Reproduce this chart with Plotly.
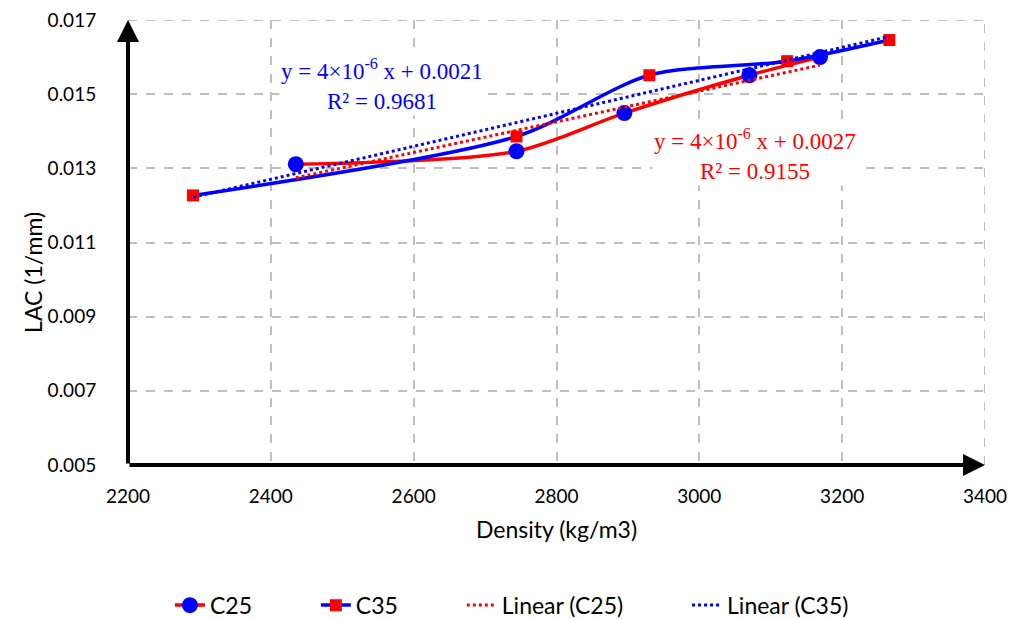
import numpy as np
import plotly.graph_objects as go

# Data
c25_density = [2435, 2744, 2895, 3070, 3169]
c25_lac = [0.01311, 0.01346, 0.01449, 0.01551, 0.01600]
c35_density = [2291, 2744, 2930, 3123, 3266]
c35_lac = [0.01227, 0.01386, 0.01551, 0.01589, 0.01646]

x_ticks = [2200, 2400, 2600, 2800, 3000, 3200, 3400]
y_ticks = [0.005, 0.007, 0.009, 0.011, 0.013, 0.015, 0.017]

RED = "#FF0000"
BLUE = "#0000FF"
GRID = "#BFBFBF"
PAD = "\u00a0" * 10

fig = go.Figure()
fig.add_trace(go.Scatter(
    x=c25_density, y=c25_lac, name="C25" + PAD, mode="lines+markers",
    line=dict(color=RED, width=3.5, shape="spline", smoothing=0.8),
    marker=dict(color=BLUE, size=16, symbol="circle")))
fig.add_trace(go.Scatter(
    x=c35_density, y=c35_lac, name="C35" + PAD, mode="lines+markers",
    line=dict(color=BLUE, width=3.5, shape="spline", smoothing=0.8),
    marker=dict(color=RED, size=12, symbol="square")))

for xs, ys, col, nm in [(c25_density, c25_lac, RED, "Linear (C25)" + PAD),
                        (c35_density, c35_lac, BLUE, "Linear (C35)")]:
    m, b = np.polyfit(xs, ys, 1)
    xe = [min(xs), max(xs)]
    fig.add_trace(go.Scatter(
        x=xe, y=[m * v + b for v in xe], name=nm, mode="lines",
        line=dict(color=col, width=3, dash="dot")))

FAM = "Lato, Open Sans, sans-serif"
tick_font = dict(family=FAM, size=19, color="#000")
title_font = dict(family=FAM, size=23, color="#000")

fig.update_layout(
    width=1024, height=619,
    margin=dict(l=128, r=39, t=20, b=154, autoexpand=False),
    plot_bgcolor="white", paper_bgcolor="white",
    showlegend=True,
    legend=dict(orientation="h", x=0.448, xanchor="center", y=-0.315, yanchor="middle",
                font=title_font, tracegroupgap=0),
    xaxis=dict(range=[2200, 3400], tickvals=x_ticks, ticktext=[str(v) for v in x_ticks],
               showgrid=True, gridcolor=GRID, gridwidth=2, griddash="dash",
               zeroline=False, showline=False, ticks="outside", ticklen=14,
               tickcolor="rgba(0,0,0,0)", tickfont=tick_font, automargin=False,
               title=dict(text="Density (kg/m3)", font=title_font, standoff=16)),
    yaxis=dict(range=[0.005, 0.017], tickvals=y_ticks, ticktext=[f"{v:.3f}" for v in y_ticks],
               showgrid=True, gridcolor=GRID, gridwidth=2, griddash="dash",
               zeroline=False, showline=False, ticks="outside", ticklen=27,
               tickcolor="rgba(0,0,0,0)", tickfont=tick_font, automargin=False),
)

# Y-axis title placed as in the reference (slightly below the plot centre)
fig.add_annotation(x=-0.111, y=0.4337, xref="paper", yref="paper", showarrow=False,
                   text="LAC (1/mm)", textangle=-90, font=title_font,
                   xanchor="center", yanchor="middle")

# Border gridlines at the range edges (top and right)
fig.add_shape(type="line", xref="x", yref="y", x0=2200, x1=3400, y0=0.017, y1=0.017,
              line=dict(color=GRID, width=2, dash="dash"), layer="below")
fig.add_shape(type="line", xref="x", yref="y", x0=3400, x1=3400, y0=0.005, y1=0.017,
              line=dict(color=GRID, width=2, dash="dash"), layer="below")

# Axes with arrowheads
fig.add_annotation(x=3400, y=0.005, ax=2200, ay=0.005, xref="x", yref="y",
                   axref="x", ayref="y", showarrow=True, arrowhead=2,
                   arrowwidth=4, arrowsize=1.1, arrowcolor="black", text="",
                   standoff=0)
fig.add_annotation(x=2200, y=0.017, ax=2200, ay=0.005, xref="x", yref="y",
                   axref="x", ayref="y", showarrow=True, arrowhead=2,
                   arrowwidth=4, arrowsize=1.1, arrowcolor="black", text="",
                   standoff=0)

eq_font = dict(family="Liberation Serif, Times New Roman, serif", size=23)
fig.add_annotation(x=2556, y=0.01525, xref="x", yref="y", showarrow=False,
                   text="y = 4×10<sup>-6</sup> x + 0.0021<br>R² = 0.9681",
                   font=dict(color=BLUE, **eq_font), bgcolor="white", align="center")
fig.add_annotation(x=3078, y=0.01336, xref="x", yref="y", showarrow=False,
                   text="y = 4×10<sup>-6</sup> x + 0.0027<br>R² = 0.9155",
                   font=dict(color=RED, **eq_font), bgcolor="white", align="center")

fig.write_html("out.html")
